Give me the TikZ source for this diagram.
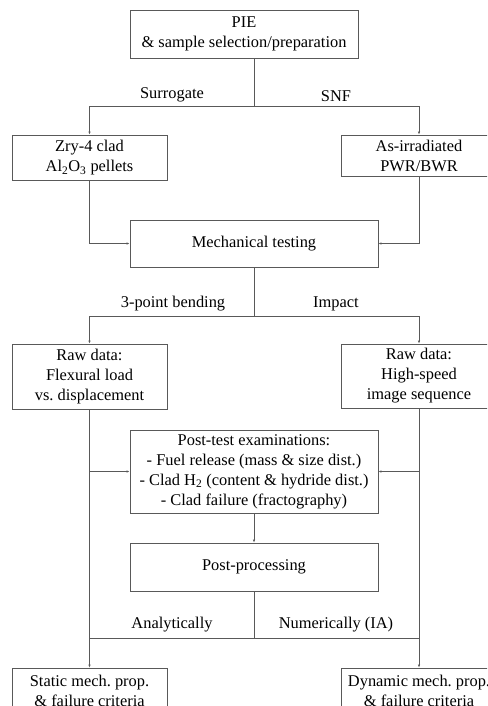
\documentclass[tikz,border=0pt]{standalone}
\usepackage{fontspec}
\setmainfont{Liberation Serif}
\usetikzlibrary{arrows.meta}
\begin{document}
\begin{tikzpicture}[x=1pt,y=-1pt,
  box/.style={draw=black!65, line width=0.7pt, align=center, inner sep=0pt, font=\fontsize{16.4}{20}\selectfont},
  lbl/.style={font=\fontsize{16.4}{20}\selectfont, inner sep=0pt, anchor=south},
  conn/.style={draw=black!65, line width=0.7pt},
  arr/.style={conn, -{Latex[length=3pt,width=2.4pt]}}]
\useasboundingbox (0,0) rectangle (487,706);
\clip (0,0) rectangle (487,706);
\node[box, minimum width=228pt, minimum height=48pt] (pie) at (244,34) {PIE\\\& sample selection/preparation};
\node[box, minimum width=155pt, minimum height=45pt] (zry) at (89.5,157.5) {Zry-4 clad\\Al\textsubscript{2}O\textsubscript{3} pellets};
\node[box, minimum width=156pt, minimum height=41pt] (asirr) at (419,155.5) {As-irradiated\\PWR/BWR};
\node[box, minimum width=248pt, minimum height=47pt] (mech) at (254,243.5) {Mechanical testing};
\node[box, minimum width=155pt, minimum height=65pt] (rawl) at (89.5,376.5) {Raw data:\\Flexural load\\vs.\ displacement};
\node[box, minimum width=156pt, minimum height=64pt] (rawr) at (419,376) {Raw data:\\High-speed\\image sequence};
\node[box, minimum width=248pt, minimum height=83pt] (post) at (254,471.5) {Post-test examinations:\\- Fuel release (mass \& size dist.)\\- Clad H\textsubscript{2} (content \& hydride dist.)\\- Clad failure (fractography)};
\node[box, minimum width=248pt, minimum height=48pt] (pp) at (254,567) {Post-processing};
\node[box, minimum width=155pt, minimum height=46pt] (statb) at (89.5,691) {Static mech.\ prop.\\\& failure criteria};
\node[box, minimum width=156pt, minimum height=46pt] (dynb) at (419,691) {Dynamic mech.\ prop.\\\& failure criteria};

\coordinate (s1) at (254,106);
\draw[conn] (pie.south -| s1) -- (s1);
\draw[arr] (s1) -| (zry.north);
\draw[arr] (s1) -| (asirr.north);
\node[lbl] (lsur) at (172,102) {Surrogate};
\node[lbl] (lsnf) at (336,102) {SNF};

\draw[arr] (zry.south) |- (mech.west);
\draw[arr] (asirr.south) |- (mech.east);

\coordinate (s2) at (254,316);
\draw[conn] (mech.south) -- (s2);
\draw[arr] (s2) -| (rawl.north);
\draw[arr] (s2) -| (rawr.north);
\node[lbl] (lbend) at (173,311) {3-point bending};
\node[lbl] (limp) at (336,311) {Impact};

\draw[arr] (rawl.south) |- (post.west);
\draw[arr] (rawr.south) |- (post.east);
\draw[arr] (rawl.south) -- (statb.north);
\draw[arr] (rawr.south) -- (dynb.north);
\draw[arr] (post.south) -- (pp.north);

\coordinate (s3) at (254,638);
\draw[conn] (pp.south) -- (s3);
\draw[conn] (rawl.south |- s3) -- (rawr.south |- s3);
\node[lbl] (lana) at (172,632) {Analytically};
\node[lbl] (lnum) at (336,632) {Numerically (IA)};
\end{tikzpicture}
\end{document}
